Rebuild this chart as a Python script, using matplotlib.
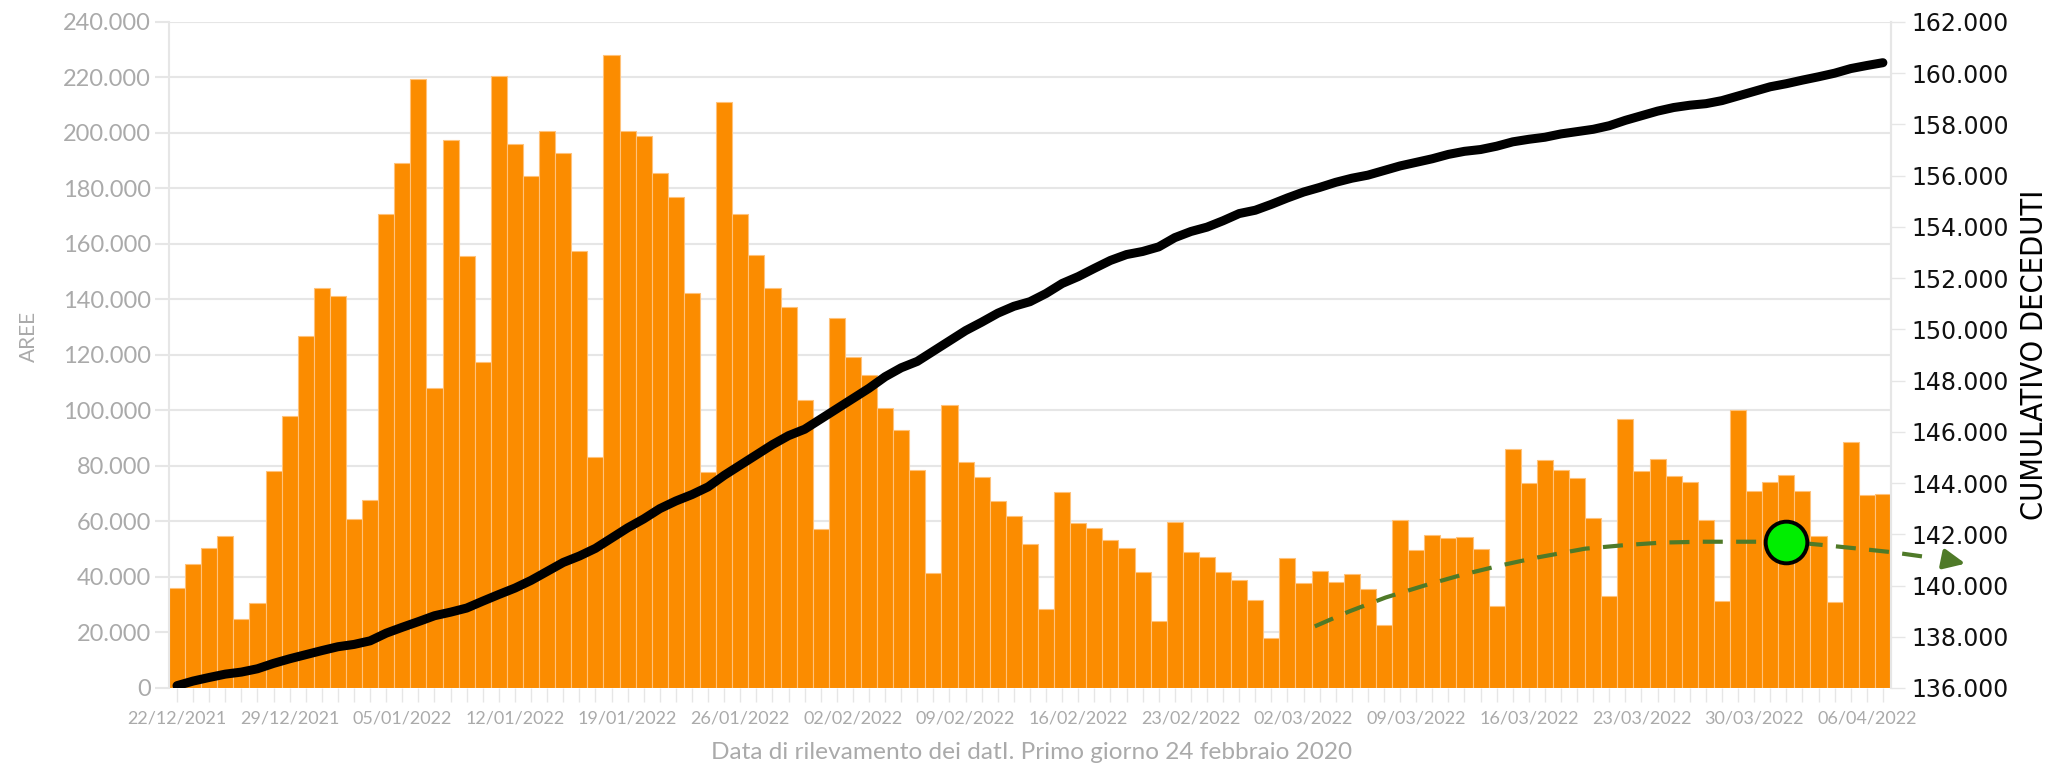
import matplotlib
matplotlib.use("Agg")
import matplotlib.pyplot as plt
import numpy as np

# dati giornalieri (barre, asse sinistro) a partire dal 22/12/2021
aree = [36.2, 44.5, 50.6, 54.7, 24.7, 30.5, 78.2, 98.0, 126.8, 144.1,
        141.1, 60.9, 67.9, 170.8, 189.0, 219.4, 108.2, 197.3, 155.6, 117.3,
        220.7, 196.0, 184.5, 200.6, 192.7, 157.3, 83.2, 228.0, 200.6, 198.8,
        185.5, 177.0, 142.3, 77.7, 211.1, 170.8, 156.0, 144.1, 137.2, 103.8,
        57.3, 133.4, 119.2, 112.8, 100.8, 93.0, 78.7, 41.3, 102.1, 81.5,
        75.9, 67.2, 61.9, 52.0, 28.5, 70.8, 59.6, 57.6, 53.5, 50.6,
        41.8, 24.2, 59.8, 48.9, 47.3, 41.7, 39.0, 31.6, 18.1, 46.9,
        37.7, 42.3, 38.2, 41.2, 35.7, 22.6, 60.6, 49.6, 55.0, 53.9,
        54.5, 49.9, 29.5, 86.1, 73.8, 82.2, 78.4, 75.6, 61.3, 33.3,
        96.8, 78.2, 82.5, 76.3, 74.4, 60.4, 31.3, 100.1, 71.1, 74.1,
        76.9, 71.1, 54.8, 31.1, 88.8, 69.7, 69.8]

# cumulativo deceduti (linea, asse destro)
deceduti = [136.09, 136.27, 136.41, 136.54, 136.62, 136.75, 136.96, 137.14, 137.30, 137.46,
            137.61, 137.70, 137.84, 138.14, 138.37, 138.59, 138.82, 138.96, 139.12, 139.39,
            139.65, 139.90, 140.20, 140.55, 140.90, 141.15, 141.45, 141.85, 142.25, 142.60,
            143.00, 143.30, 143.55, 143.85, 144.30, 144.70, 145.10, 145.50, 145.85, 146.10,
            146.50, 146.90, 147.30, 147.70, 148.15, 148.50, 148.75, 149.15, 149.55, 149.95,
            150.28, 150.63, 150.90, 151.08, 151.40, 151.79, 152.06, 152.38, 152.69, 152.92,
            153.04, 153.22, 153.58, 153.82, 153.99, 154.24, 154.52, 154.65, 154.88, 155.13,
            155.36, 155.54, 155.74, 155.90, 156.02, 156.20, 156.38, 156.52, 156.66, 156.83,
            156.95, 157.02, 157.15, 157.32, 157.42, 157.50, 157.63, 157.72, 157.81, 157.95,
            158.16, 158.34, 158.52, 158.66, 158.75, 158.81, 158.93, 159.11, 159.29, 159.47,
            159.59, 159.73, 159.86, 160.00, 160.18, 160.30, 160.41]

etichette_date = ['22/12/2021', '29/12/2021', '05/01/2022', '12/01/2022', '19/01/2022',
                  '26/01/2022', '02/02/2022', '09/02/2022', '16/02/2022', '23/02/2022',
                  '02/03/2022', '09/03/2022', '16/03/2022', '23/03/2022', '30/03/2022',
                  '06/04/2022']

# curva di tendenza disegnata a mano (coordinate in indice giorno / aree in migliaia)
trend_x = [70.7, 72.8, 75.1, 77.5, 79.8, 82.2, 84.5, 87.5, 90.0, 92.3, 94.8, 97.3,
           100.1, 102.3, 104.5, 106.6, 109.2]
trend_y = [22.2, 27.5, 32.6, 36.9, 40.7, 44.1, 47.0, 50.2, 51.5, 52.4, 52.7, 52.7,
           52.7, 51.5, 50.2, 48.9, 46.8]
punto_x, punto_y = 100, 52.7

aree = np.array(aree) * 1000
deceduti = np.array(deceduti) * 1000
x = np.arange(len(aree))

grigio = '#AAAAAA'
griglia = '#E6E6E6'
arancio = '#FB8C00'
verde_scuro = '#4F7A28'

fig = plt.figure(figsize=(20.63, 7.68), dpi=100)
ax = fig.add_axes([0.0819, 0.1042, 0.8347, 0.8672])

# --- barre ---
ax.bar(x, aree, width=1.0, color=arancio, edgecolor='#FFC27A', linewidth=0.8, zorder=2)
ax.set_xlim(-0.5, len(aree) - 0.5)
ax.set_ylim(0, 240000)
yt = np.arange(0, 240001, 20000)
ax.set_yticks(yt)
ax.set_yticklabels([f"{int(v):,}".replace(',', '.') for v in yt])
ax.grid(axis='y', color=griglia, linewidth=1.5, zorder=0)
ax.set_axisbelow(True)
ax.tick_params(axis='y', length=10, width=1.5, color=griglia, labelcolor=grigio,
               labelsize=17, pad=3)
for lab in ax.get_yticklabels():
    lab.set_family('Lato')

ax.set_xticks(x[::7])
ax.set_xticklabels(etichette_date)
ax.set_xticks(x, minor=True)
ax.tick_params(axis='x', which='both', length=10, width=1, color=griglia,
               labelcolor=grigio, labelsize=13, pad=6)
for lab in ax.get_xticklabels():
    lab.set_family('Lato')

for s in ['top', 'bottom']:
    ax.spines[s].set_visible(False)
for s in ['left', 'right']:
    ax.spines[s].set_color(griglia)
    ax.spines[s].set_linewidth(1.5)

# --- linea cumulativa ---
ax2 = ax.twinx()
ax2.plot(x, deceduti, color='black', linewidth=6.5, solid_capstyle='round', zorder=5)
ax2.set_ylim(136000, 162000)
yt2 = np.arange(136000, 162001, 2000)
ax2.set_yticks(yt2)
ax2.set_yticklabels([f"{int(v):,}".replace(',', '.') for v in yt2])
ax2.tick_params(axis='y', length=10, width=1, color=griglia, labelcolor='#111111',
                labelsize=17, pad=5)
for s in ['top', 'bottom', 'left']:
    ax2.spines[s].set_visible(False)
ax2.spines['right'].set_color(griglia)
ax2.spines['right'].set_linewidth(1.5)

# --- tendenza tratteggiata con freccia e punto verde ---
tx = np.array(trend_x)
ty = np.array(trend_y) * 1000
ax2.plot(tx, ty * 26000 / 240000 + 136000, color=verde_scuro, linewidth=3,
         linestyle=(0, (4.8, 3.2)), clip_on=False, zorder=6)
ax2.annotate('', xy=(111.3, 44600 * 26000 / 240000 + 136000),
             xytext=(109.6, 46600 * 26000 / 240000 + 136000),
             arrowprops=dict(arrowstyle='-|>,head_length=1.3,head_width=0.6',
                             color=verde_scuro, linewidth=3),
             annotation_clip=False, zorder=6)
ax2.plot([punto_x], [punto_y * 1000 * 26000 / 240000 + 136000], marker='o',
         markersize=30, markerfacecolor='#00EE00', markeredgecolor='black',
         markeredgewidth=2.8, linestyle='none', clip_on=False, zorder=7)

# --- titoli assi ---
fig.text(0.014, 0.562, 'AREE', rotation=90, ha='center', va='center',
         color=grigio, fontsize=15, family='Lato')
fig.text(0.986, 0.538, 'CUMULATIVO DECEDUTI', rotation=90, ha='center', va='center',
         color='black', fontsize=22, family=['Liberation Sans Narrow', 'DejaVu Sans'],
         fontstretch='condensed')
fig.text(0.5, 0.02, 'Data di rilevamento dei datI. Primo giorno 24 febbraio 2020',
         ha='center', va='center', color=grigio, fontsize=17.6, family='Lato')

fig.savefig('out.png', dpi=100)
